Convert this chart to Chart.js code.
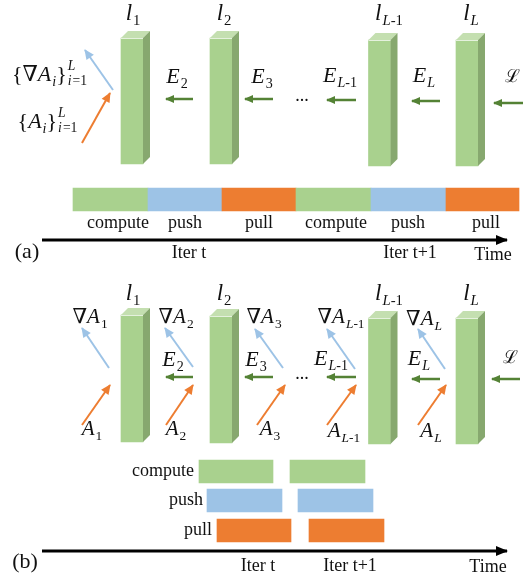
<!DOCTYPE html>
<html>
<head>
<meta charset="utf-8">
<script src="https://cdn.jsdelivr.net/npm/chart.js@4.4.1/dist/chart.umd.min.js"></script>
<style>
  html, body { margin: 0; padding: 0; background: #fff; }
  canvas { display: block; }
</style>
</head>
<body>
<canvas id="c" width="531" height="584"></canvas>
<script>
// layer blocks: centre of front face, top and bottom (panel a, panel b)
const layerX = [132, 221, 379.5, 467];
const layerTopA = [38, 38, 40, 40];
const layerBotA = [164, 164, 166, 166];
const layerTopB = [315, 316, 318, 318];
const layerBotB = [442, 443, 444, 444];
const layerSubs = ['1', '2', 'L-1', 'L'];

// timeline (a): phases one after another
const phasesA = ['compute', 'push', 'pull', 'compute', 'push', 'pull'];
const edgesA = [73, 148, 222, 296, 371, 446, 519];
const rowYA = 199.5;

// timeline (b): overlapping rows
const rowsB = ['compute', 'push', 'pull'];
const rowYB = [471.5, 500.5, 530.5];
const computeB = [[199, 273], [290, 365]];
const pushB = [[207, 282], [298, 373]];
const pullB = [[217, 291], [309, 384]];

// arrows [x0, y0, x1, y1], head at (x1, y1)
const gradArrowsA = [[113, 90, 85, 50]];
const actArrowsA = [[82, 143, 110, 93]];
const errArrowsA = [[193, 99, 166, 99], [273, 99, 245, 99], [356, 100, 327, 100], [440, 101, 412, 101], [523, 103, 494, 103]];
const gradArrowsB = [[109, 368, 82, 328], [193, 367, 165, 328], [283, 368, 255, 329], [355, 369, 327, 329], [445, 369, 418, 329]];
const actArrowsB = [[82, 425, 110, 385], [166, 425, 193, 385], [257, 425, 285, 385], [327, 425, 356, 385], [418, 425, 446, 385]];
const errArrowsB = [[193, 377, 166, 377], [273, 377, 245, 377], [356, 377, 327, 377], [440, 379, 412, 379], [520, 379, 492, 379]];
const timeAxes = [[42, 240, 507, 240], [42, 551, 507, 551]];

// label texts
const errSubs = ['2', '3', 'L-1', 'L'];
const actSubs = ['1', '2', '3', 'L-1', 'L'];

const GREEN = '#A9D18E', BLUE = '#9DC3E6', ORANGE = '#ED7D31', DARKGREEN = '#548235';
const SIDE = '#87A86F', TOP = '#C4DFB0';
const phaseColor = {compute: GREEN, push: BLUE, pull: ORANGE};
const SERIF = "'Liberation Serif','DejaVu Serif',serif";

// ---- rich text helpers ----
const It = t => ({t: t, it: true});
const Rm = t => ({t: t});
const Sub = (t, it) => ({t: t, it: !!it, sub: true});
function idx(s) {
    if (s === 'L') return [Sub('L', true)];
    if (s === 'L-1') return [Sub('L', true), Sub('-1')];
    return [Sub(s)];
}
function fontOf(r, size) { return (r.it ? 'italic ' : '') + size + 'px ' + SERIF; }
function runWidth(ctx, r, size) {
    if (r.stack) {
        const s = size * 0.62;
        return Math.max(runsWidth(ctx, r.stack[0], s), runsWidth(ctx, r.stack[1], s)) + 2;
    }
    const s = r.sub ? size * 0.64 : size;
    ctx.font = fontOf(r, s);
    return ctx.measureText(r.t).width + (r.it && !r.sub ? 1 : 0);
}
function runsWidth(ctx, runs, size) {
    let w = 0;
    runs.forEach(r => { w += runWidth(ctx, r, size); });
    return w;
}
function drawRuns(ctx, runs, x, y, size) {
    runs.forEach(r => {
        const w = runWidth(ctx, r, size);
        if (r.stack) {
            drawRuns(ctx, r.stack[0], x + 1, y - size * 0.5, size * 0.62);
            drawRuns(ctx, r.stack[1], x + 1, y + size * 0.2, size * 0.62);
        } else {
            const s = r.sub ? size * 0.64 : size;
            ctx.font = fontOf(r, s);
            ctx.fillText(r.t, x, y + (r.sub ? size * 0.22 : 0));
        }
        x += w;
    });
}

// ---- label list ----
const labels = [];
function addLabel(x, y, size, runs, align) { labels.push({x: x, y: y, size: size, runs: runs, align: align || 'center'}); }

// panel (a)
[133, 224, 389, 471].forEach((x, i) => addLabel(x, 20, 23, [It('l')].concat(idx(layerSubs[i]))));
[[177, 83], [262, 83], [340, 82], [424, 82]].forEach((p, i) => addLabel(p[0], p[1], 22, [It('E')].concat(idx(errSubs[i]))));
addLabel(512, 82, 18, [Rm('\u2112')]);
addLabel(302, 101, 18, [Rm('...')]);
addLabel(50, 81, 22, [Rm('{\u2207'), It('A'), Sub('i', true), Rm('}'), {stack: [[It('L')], [It('i'), Rm('=1')]]}]);
addLabel(48, 128, 22, [Rm('{'), It('A'), Sub('i', true), Rm('}'), {stack: [[It('L')], [It('i'), Rm('=1')]]}]);
[118, 185, 259, 336, 408, 486].forEach((x, i) => addLabel(x, 228, 18, [Rm(phasesA[i])]));
addLabel(189, 258, 18, [Rm('Iter t')]);
addLabel(410, 258, 18, [Rm('Iter t+1')]);
addLabel(493, 260, 18, [Rm('Time')]);
addLabel(27, 258, 22, [Rm('(a)')]);

// panel (b)
[133, 224, 389, 471].forEach((x, i) => addLabel(x, 300, 23, [It('l')].concat(idx(layerSubs[i]))));
[[90, 323], [176, 323], [264, 323], [341, 323], [424, 325]].forEach((p, i) => addLabel(p[0], p[1], 21, [Rm('\u2207'), It('A')].concat(idx(actSubs[i]))));
[[173, 366], [256, 366], [331, 365], [419, 365]].forEach((p, i) => addLabel(p[0], p[1], 22, [It('E')].concat(idx(errSubs[i]))));
addLabel(510, 363, 18, [Rm('\u2112')]);
addLabel(302, 379, 18, [Rm('...')]);
[[92, 435], [176, 435], [270, 435], [344, 437], [431, 437]].forEach((p, i) => addLabel(p[0], p[1], 21, [It('A')].concat(idx(actSubs[i]))));
[194, 203, 212].forEach((x, i) => addLabel(x, [476, 505, 535][i], 18, [Rm(rowsB[i])], 'right'));
addLabel(258, 571, 18, [Rm('Iter t')]);
addLabel(350, 571, 18, [Rm('Iter t+1')]);
addLabel(488, 572, 18, [Rm('Time')]);
addLabel(25, 568, 22, [Rm('(b)')]);

// ---- datasets ----
const timelineData = [], timelineColors = [];
phasesA.forEach((p, i) => {
    timelineData.push({x: [edgesA[i], edgesA[i + 1]], y: rowYA});
    timelineColors.push(phaseColor[p]);
});
[computeB, pushB, pullB].forEach((spans, r) => spans.forEach(s => {
    timelineData.push({x: s, y: rowYB[r]});
    timelineColors.push(phaseColor[rowsB[r]]);
}));

const layerData = [];
layerX.forEach((x, i) => layerData.push({x: x, y: [layerTopA[i], layerBotA[i]]}));
layerX.forEach((x, i) => layerData.push({x: x, y: [layerTopB[i], layerBotB[i]]}));

const datasets = [
    {type: 'bar', indexAxis: 'y', data: timelineData, backgroundColor: timelineColors,
        barThickness: 23, grouped: false, borderWidth: 0, xAxisID: 'x', yAxisID: 'y'},
    {type: 'bar', indexAxis: 'x', data: layerData, backgroundColor: GREEN,
        barThickness: 22, grouped: false, borderWidth: 0, xAxisID: 'xl', yAxisID: 'yl', box: true}
];
function addArrows(list, color, width, head) {
    list.forEach(a => datasets.push({
        type: 'line', data: [{x: a[0], y: a[1]}, {x: a[2], y: a[3]}],
        borderColor: color, borderWidth: width, pointRadius: 0, head: head,
        xAxisID: 'x', yAxisID: 'y'
    }));
}
addArrows(gradArrowsA.concat(gradArrowsB), BLUE, 2, [10, 4.5]);
addArrows(actArrowsA.concat(actArrowsB), ORANGE, 2, [10, 4.5]);
addArrows(errArrowsA.concat(errArrowsB), DARKGREEN, 2.5, [9, 4]);
addArrows(timeAxes, '#000', 3, [12, 5]);

// side and top faces of the layer blocks
const boxPlugin = {
    id: 'box',
    afterDatasetsDraw(chart) {
        const ctx = chart.ctx;
        chart.data.datasets.forEach((ds, i) => {
            if (!ds.box) return;
            chart.getDatasetMeta(i).data.forEach(el => {
                const p = el.getProps(['x', 'y', 'base', 'width'], true);
                const l = p.x - p.width / 2, r = p.x + p.width / 2;
                const t = Math.min(p.y, p.base), b = Math.max(p.y, p.base);
                const d = 7;
                ctx.save();
                ctx.fillStyle = TOP;
                ctx.beginPath();
                ctx.moveTo(l, t); ctx.lineTo(l + d, t - d); ctx.lineTo(r + d, t - d); ctx.lineTo(r, t);
                ctx.closePath(); ctx.fill();
                ctx.fillStyle = SIDE;
                ctx.beginPath();
                ctx.moveTo(r, t); ctx.lineTo(r + d, t - d); ctx.lineTo(r + d, b - d); ctx.lineTo(r, b);
                ctx.closePath(); ctx.fill();
                ctx.strokeStyle = 'rgba(255,255,255,0.7)';
                ctx.lineWidth = 1;
                ctx.beginPath(); ctx.moveTo(l, t + 0.5); ctx.lineTo(r, t + 0.5); ctx.stroke();
                ctx.restore();
            });
        });
    }
};

const headPlugin = {
    id: 'heads',
    afterDatasetsDraw(chart) {
        const ctx = chart.ctx;
        chart.data.datasets.forEach((ds, i) => {
            if (!ds.head) return;
            const pts = chart.getDatasetMeta(i).data;
            const a = pts[0], b = pts[1];
            const ang = Math.atan2(b.y - a.y, b.x - a.x);
            const len = ds.head[0], hw = ds.head[1];
            const tx = b.x + Math.cos(ang) * 1, ty = b.y + Math.sin(ang) * 1;
            const bx = tx - Math.cos(ang) * len, by = ty - Math.sin(ang) * len;
            ctx.save();
            ctx.fillStyle = ds.borderColor;
            ctx.beginPath();
            ctx.moveTo(tx, ty);
            ctx.lineTo(bx - Math.sin(ang) * hw, by + Math.cos(ang) * hw);
            ctx.lineTo(bx + Math.sin(ang) * hw, by - Math.cos(ang) * hw);
            ctx.closePath();
            ctx.fill();
            ctx.restore();
        });
    }
};

const textPlugin = {
    id: 'texts',
    afterDraw(chart) {
        const ctx = chart.ctx;
        const sx = chart.scales.x, sy = chart.scales.y;
        ctx.save();
        ctx.fillStyle = '#111';
        ctx.textBaseline = 'alphabetic';
        ctx.textAlign = 'left';
        labels.forEach(l => {
            const w = runsWidth(ctx, l.runs, l.size);
            let x = sx.getPixelForValue(l.x);
            if (l.align === 'center') x -= w / 2;
            else if (l.align === 'right') x -= w;
            drawRuns(ctx, l.runs, x, sy.getPixelForValue(l.y), l.size);
        });
        ctx.restore();
    }
};

// all four scales map straight onto the 531x584 canvas
function flatScale(axis, max, reverse) {
    return {type: 'linear', axis: axis, min: 0, max: max, reverse: reverse, offset: false,
        grid: {offset: false}, display: false};
}
const hidden = {display: false};
new Chart(document.getElementById('c'), {
    type: 'scatter',
    data: {datasets: datasets},
    options: {
        responsive: false,
        animation: false,
        events: [],
        layout: {padding: 0},
        plugins: {legend: hidden, tooltip: {enabled: false}, title: hidden},
        scales: {
            x: flatScale('x', 531, false),
            y: flatScale('y', 584, true),
            xl: flatScale('x', 531, false),
            yl: flatScale('y', 584, true)
        }
    },
    plugins: [boxPlugin, headPlugin, textPlugin]
});
</script>
</body>
</html>
